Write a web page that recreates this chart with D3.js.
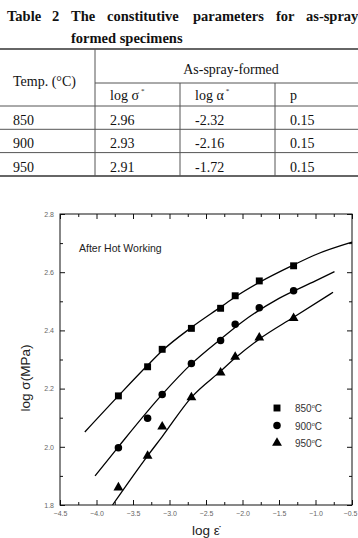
<!DOCTYPE html>
<html>
<head>
<meta charset="utf-8">
<script src="https://cdn.jsdelivr.net/npm/d3@7"></script>
<style>
  body { margin: 0; background: #fff; }
  svg { display: block; }
</style>
</head>
<body>
<svg width="358" height="538"></svg>
<script>
// table values
var titleWords = ["Table", "2", "The", "constitutive", "parameters", "for", "as-spray"];
var titleWordX = [7, 52, 71, 107, 193, 276, 306]; // justified line
var tableHeadCols = ["log σ", "log α", "p"];
var tableTemps = ["850", "900", "950"];
var tableLogSigma = ["2.96", "2.93", "2.91"];
var tableLogAlpha = ["-2.32", "-2.16", "-1.72"];
var tableP = ["0.15", "0.15", "0.15"];

// chart values (log strain rate vs log stress)
var series = ["850", "900", "950"];
var logRate = [-3.7, -3.3, -3.1, -2.7, -2.3, -2.1, -1.77, -1.3];
var stress850 = [2.175, 2.275, 2.335, 2.407, 2.476, 2.519, 2.570, 2.622];
var stress900 = [1.997, 2.098, 2.180, 2.286, 2.365, 2.421, 2.478, 2.536];
var stress950 = [1.860, 1.969, 2.069, 2.170, 2.255, 2.309, 2.375, 2.442];

// fitted curves
var fitX850 = [-4.16, -3.7, -3.3, -3.1, -2.7, -2.3, -2.1, -1.77, -1.3, -1.0, -0.5];
var fitY850 = [2.051, 2.175, 2.28, 2.33, 2.41, 2.48, 2.515, 2.565, 2.625, 2.66, 2.703];
var fitX900 = [-4.02, -3.7, -3.1, -2.7, -2.3, -2.0, -1.5, -1.0, -0.74];
var fitY900 = [1.90, 2.0, 2.18, 2.285, 2.37, 2.43, 2.51, 2.57, 2.602];
var fitX950 = [-3.78, -3.3, -3.1, -2.7, -2.3, -2.1, -1.77, -1.3, -0.76];
var fitY950 = [1.80, 1.969, 2.035, 2.17, 2.26, 2.305, 2.37, 2.445, 2.531];

var xTicks = [-4.5, -4.0, -3.5, -3.0, -2.5, -2.0, -1.5, -1.0, -0.5];
var yTicks = [1.8, 2.0, 2.2, 2.4, 2.6, 2.8];

(function() {
var svg = d3.select("svg");
var serif = "'Liberation Serif', 'Times New Roman', serif",
    sans = "'Liberation Sans', Arial, sans-serif";

// ---------- table ----------
var tbl = svg.append("g").attr("font-family", serif).attr("fill", "#111");

tbl.selectAll("text.title")
    .data(titleWords)
  .enter().append("text")
    .attr("class", "title")
    .attr("x", function(d, i) { return titleWordX[i]; })
    .attr("y", 21)
    .attr("font-size", 14.5)
    .attr("font-weight", "bold")
    .text(function(d) { return d; });

tbl.append("text")
    .attr("x", 71).attr("y", 43)
    .attr("font-size", 14.5).attr("font-weight", "bold")
    .text("formed specimens");

var rowTop = 106, rowH = 23.3;
var colX = [0, 95, 180, 275, 358];

// horizontal rules
tbl.append("line").attr("x1", 0).attr("x2", 358).attr("y1", 49).attr("y2", 49)
    .attr("stroke", "#333").attr("stroke-width", 1.5);
tbl.append("line").attr("x1", 95).attr("x2", 358).attr("y1", 83).attr("y2", 83)
    .attr("stroke", "#555").attr("stroke-width", 1);
tbl.selectAll("line.row")
    .data(d3.range(tableTemps.length + 1))
  .enter().append("line")
    .attr("class", "row")
    .attr("x1", 0).attr("x2", 358)
    .attr("y1", function(i) { return rowTop + i * rowH; })
    .attr("y2", function(i) { return rowTop + i * rowH; })
    .attr("stroke", function(i) { return i == tableTemps.length ? "#333" : "#555"; })
    .attr("stroke-width", function(i) { return i == tableTemps.length ? 1.5 : 1; });

// vertical rules
var tableBottom = rowTop + tableTemps.length * rowH;
tbl.append("line").attr("x1", 95).attr("x2", 95).attr("y1", 49).attr("y2", tableBottom)
    .attr("stroke", "#555");
[180, 275].forEach(function(xx) {
  tbl.append("line").attr("x1", xx).attr("x2", xx).attr("y1", 83).attr("y2", tableBottom)
      .attr("stroke", "#555");
});

tbl.append("text").attr("x", 13).attr("y", 86).attr("font-size", 14).text("Temp. (°C)");
tbl.append("text").attr("x", 231).attr("y", 74).attr("font-size", 14)
    .attr("text-anchor", "middle").text("As-spray-formed");

tableHeadCols.forEach(function(h, i) {
  var t = tbl.append("text").attr("x", colX[i + 1] + 15).attr("y", 100).attr("font-size", 14).text(h);
  if (i < 2) t.append("tspan").attr("dy", -7).attr("dx", 2).attr("font-size", 7).text("*");
});

var rows = [tableTemps, tableLogSigma, tableLogAlpha, tableP];
rows.forEach(function(col, c) {
  tbl.selectAll("text.c" + c)
      .data(col)
    .enter().append("text")
      .attr("class", "c" + c)
      .attr("x", c == 0 ? 13 : colX[c] + 15)
      .attr("y", function(d, i) { return rowTop + i * rowH + 19; })
      .attr("font-size", 14)
      .text(function(d) { return d; });
});

// ---------- chart ----------
var pl = 60, pr = 352, pt = 214, pb = 505;
var x = d3.scaleLinear().domain([-4.5, -0.5]).range([pl, pr]);
var y = d3.scaleLinear().domain([1.8, 2.8]).range([pb, pt]);

var xMinor = d3.range(-4.25, -0.5, 0.5);
var yMinor = d3.range(1.9, 2.8, 0.2);

var g = svg.append("g");

function axisPair(axisFn, scale, major, minor, transform, labels) {
  var a = g.append("g").attr("transform", transform)
      .call(axisFn(scale).tickValues(major).tickSize(-5).tickPadding(6)
        .tickFormat(labels ? d3.format(".1f") : ""));
  var b = g.append("g").attr("transform", transform)
      .call(axisFn(scale).tickValues(minor).tickSize(-3).tickFormat(""));
  [a, b].forEach(function(s) {
    s.select(".domain").remove();
    s.selectAll("line").attr("stroke", "#111");
    s.selectAll("text").attr("font-family", sans).attr("font-size", 7).attr("fill", "#666");
  });
  return a;
}

var xAx = axisPair(d3.axisBottom, x, xTicks, xMinor, "translate(0," + pb + ")", true);
// last label sits right at the page edge, nudge it in a little
xAx.selectAll(".tick text").filter(function(d) { return d == -0.5; }).attr("dx", -2);
axisPair(d3.axisTop, x, xTicks, xMinor, "translate(0," + pt + ")", false);
axisPair(d3.axisLeft, y, yTicks, yMinor, "translate(" + pl + ",0)", true);
axisPair(d3.axisRight, y, yTicks, yMinor, "translate(" + pr + ",0)", false);

g.append("rect")
    .attr("x", pl).attr("y", pt)
    .attr("width", pr - pl).attr("height", pb - pt)
    .attr("fill", "none").attr("stroke", "#111").attr("stroke-width", 1);

var line = d3.line()
    .x(function(d) { return x(d[0]); })
    .y(function(d) { return y(d[1]); })
    .curve(d3.curveMonotoneX);

[[fitX850, fitY850], [fitX900, fitY900], [fitX950, fitY950]].forEach(function(f) {
  g.append("path")
      .datum(d3.zip(f[0], f[1]))
      .attr("d", line)
      .attr("fill", "none")
      .attr("stroke", "#000")
      .attr("stroke-width", 1.3);
});

var symbols = [d3.symbolSquare, d3.symbolCircle, d3.symbolTriangle];
var symSize = [48, 44, 42];
[stress850, stress900, stress950].forEach(function(vals, k) {
  g.selectAll("path.s" + k)
      .data(d3.zip(logRate, vals))
    .enter().append("path")
      .attr("class", "s" + k)
      .attr("transform", function(d) { return "translate(" + x(d[0]) + "," + y(d[1]) + ")"; })
      .attr("d", d3.symbol().type(symbols[k]).size(symSize[k]))
      .attr("fill", "#000");
});

g.append("text")
    .attr("x", 79).attr("y", 252)
    .attr("font-family", sans).attr("font-size", 10.5).attr("fill", "#222")
    .text("After Hot Working");

// legend
var leg = g.selectAll("g.leg")
    .data(series)
  .enter().append("g")
    .attr("class", "leg")
    .attr("transform", function(d, i) { return "translate(277," + (408 + i * 17.5) + ")"; });
leg.append("path")
    .attr("d", function(d, i) { return d3.symbol().type(symbols[i]).size(symSize[i])(); })
    .attr("fill", "#000");
var lt = leg.append("text")
    .attr("x", 18).attr("y", 4)
    .attr("font-family", sans).attr("font-size", 10).attr("fill", "#333")
    .text(function(d) { return d; });
lt.append("tspan").attr("dy", -4).attr("font-size", 5.5).text("o");
lt.append("tspan").attr("dy", 4).text("C");

// axis titles
svg.append("text")
    .attr("transform", "translate(30,378) rotate(-90)")
    .attr("text-anchor", "middle")
    .attr("font-family", sans).attr("font-size", 13.5).attr("fill", "#222")
    .text("log σ(MPa)");

svg.append("text")
    .attr("x", 206).attr("y", 535)
    .attr("text-anchor", "middle")
    .attr("font-family", sans).attr("font-size", 13.5).attr("fill", "#222")
    .text("log ε\u0307");
})();
</script>
</body>
</html>
